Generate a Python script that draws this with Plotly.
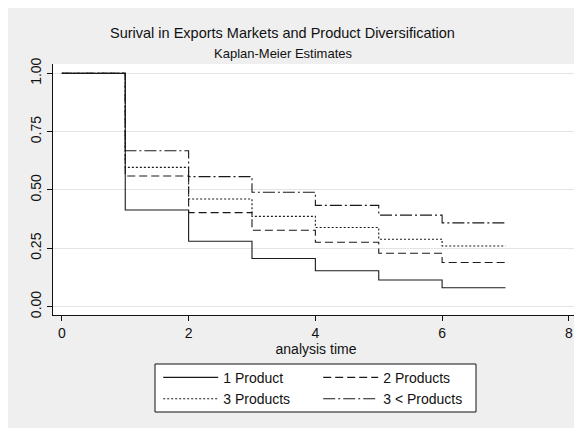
import plotly.graph_objects as go

# Data
time = [0, 1, 2, 3, 4, 5, 6, 7]
one_product = [1.0, 0.414, 0.280, 0.206, 0.154, 0.114, 0.081, 0.081]
two_products = [1.0, 0.560, 0.403, 0.327, 0.276, 0.229, 0.189, 0.189]
three_products = [1.0, 0.597, 0.461, 0.387, 0.339, 0.289, 0.260, 0.260]
more_products = [1.0, 0.668, 0.557, 0.490, 0.434, 0.392, 0.359, 0.359]

series_names = ["1 Product", "2 Products", "3 Products", "3 < Products"]
x_ticks = [0, 2, 4, 6, 8]
y_ticks = [0, 0.25, 0.5, 0.75, 1.0]
y_tick_labels = ["0.00", "0.25", "0.50", "0.75", "1.00"]

FONT = "Liberation Sans, Arial, sans-serif"
LINE = "#1a1a1a"
OFF = 8  # the page body adds an 8px offset

fig = go.Figure()
styles = [("solid", "legend"), ("8px,4px", "legend"), ("2px,2px", "legend2"), ("12px,3px,2px,3px", "legend2")]
for name, vals, (dash, leg) in zip(series_names, [one_product, two_products, three_products, more_products], styles):
    fig.add_trace(go.Scatter(
        x=time, y=vals, mode="lines", name=name, line_shape="hv",
        line=dict(color=LINE, width=1.1, dash=dash), legend=leg,
    ))

legend_common = dict(
    orientation="h", xanchor="left", yanchor="middle",
    font=dict(family=FONT, size=14, color="#111"),
    bgcolor="rgba(0,0,0,0)", itemwidth=55, entrywidth=90, entrywidthmode="pixels",
    tracegroupgap=0, itemclick=False,
)

fig.update_layout(
    width=582, height=428,
    margin=dict(l=53 - OFF, r=3 + OFF, t=64 - OFF, b=113 + OFF, autoexpand=False),
    paper_bgcolor="#EFEFEF", plot_bgcolor="white",
    font=dict(family=FONT, size=14, color="#111"),
    showlegend=True,
    legend=dict(x=0.2, y=-0.25, **legend_common),
    legend2=dict(x=0.2, y=-0.335, **legend_common),
    xaxis=dict(
        range=[-0.14, 8.16], tickvals=x_ticks, showgrid=False, zeroline=False,
        showline=True, linecolor="#111", linewidth=1, ticks="outside", ticklen=5,
        tickcolor="#111", tickfont=dict(size=14), automargin=False,
        title=dict(text="analysis time", font=dict(size=14), standoff=2),
    ),
    yaxis=dict(
        range=[-0.036, 1.04], tickvals=y_ticks, ticktext=y_tick_labels, tickangle=-90,
        showgrid=True, gridcolor="#E4E4E4", gridwidth=1, zeroline=False,
        showline=True, linecolor="#111", linewidth=1, ticks="outside", ticklen=5,
        tickcolor="#111", tickfont=dict(size=14), automargin=False,
    ),
    shapes=[dict(type="rect", xref="paper", yref="paper",
                 x0=(155 - 53) / 526, x1=(476 - 53) / 526,
                 y0=(315 - 412) / 251, y1=(315 - 364) / 251,
                 line=dict(color="#111", width=1), fillcolor="white", layer="below")],
    annotations=[
        dict(text="Surival in Exports Markets and Product Diversification", xref="paper", yref="paper",
             x=0.437, y=(315 - 33) / 251, xanchor="center", yanchor="middle", showarrow=False,
             font=dict(size=14.5, family=FONT, color="#111")),
        dict(text="Kaplan-Meier Estimates", xref="paper", yref="paper",
             x=0.437, y=(315 - 53) / 251, xanchor="center", yanchor="middle", showarrow=False,
             font=dict(size=13, family=FONT, color="#111")),
    ],
)

fig.write_html("out.html")
